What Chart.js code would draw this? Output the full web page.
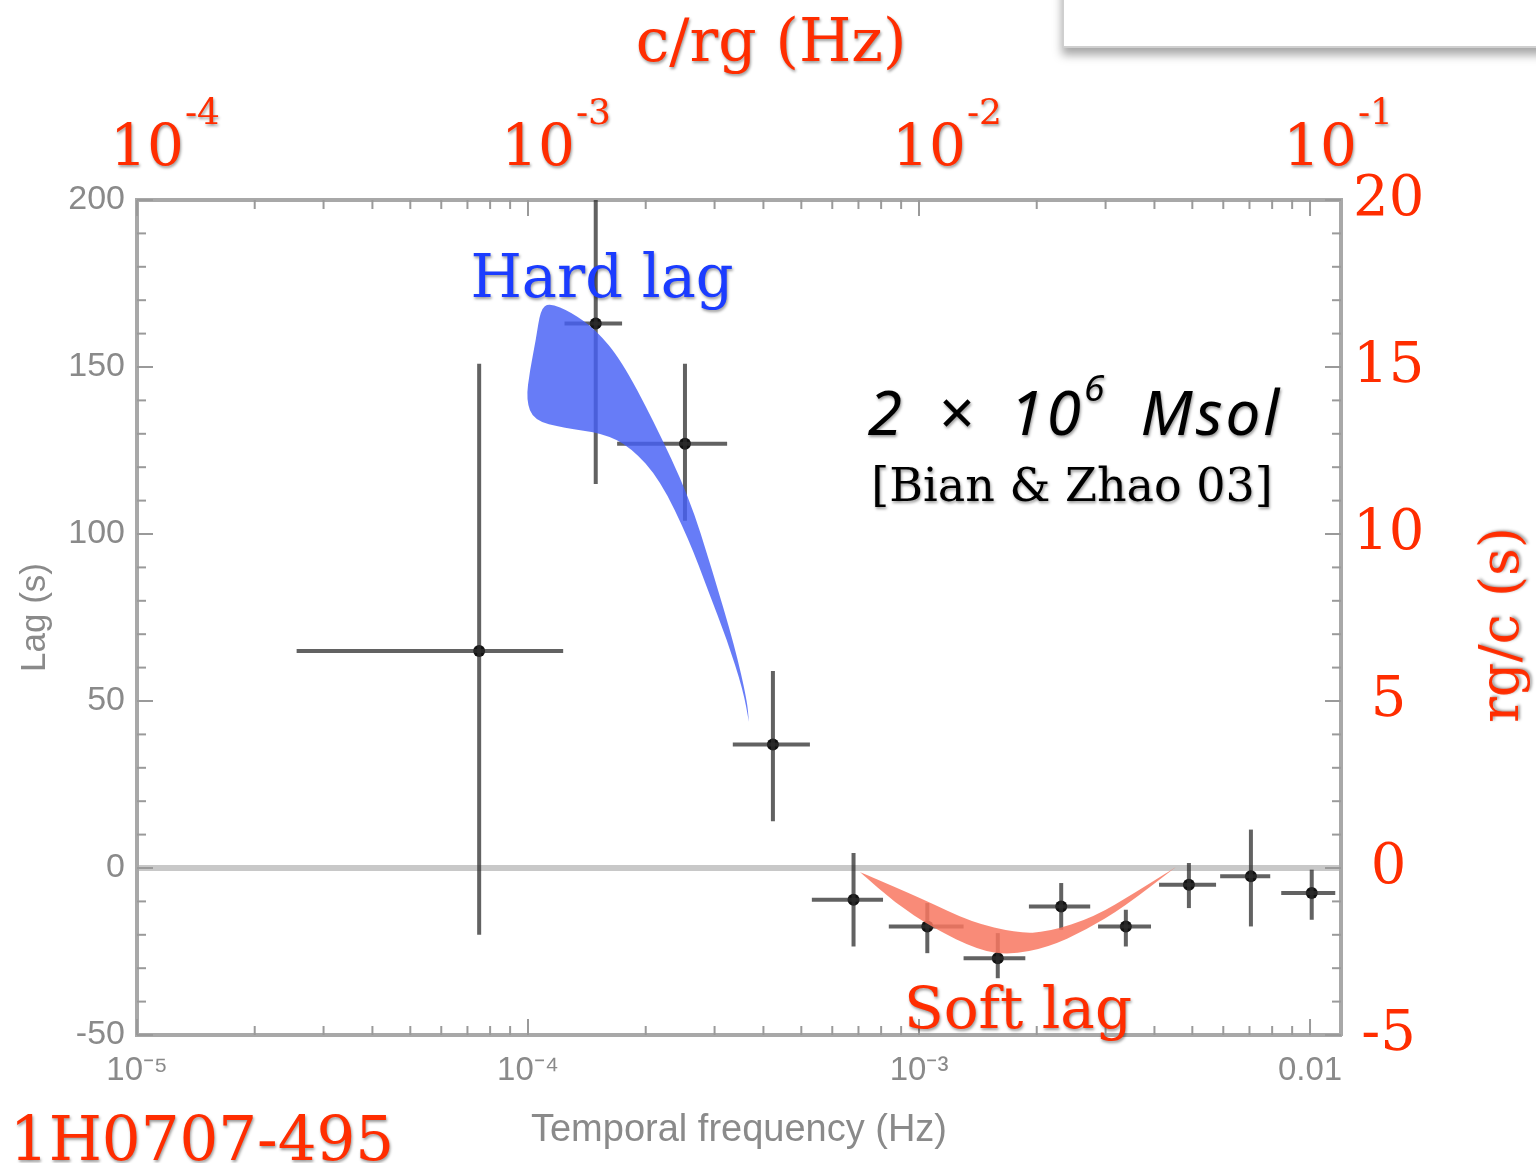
<!DOCTYPE html>
<html>
<head>
<meta charset="utf-8">
<script src="https://cdn.jsdelivr.net/npm/chart.js@4.4.0/dist/chart.umd.min.js"></script>
<style>
  html, body { margin: 0; padding: 0; background: #fff; }
  #wrap { position: relative; width: 1536px; height: 1163px; overflow: hidden; }
  #chart { position: absolute; left: 0; top: 0; }
  .lbl {
    position: absolute; white-space: nowrap; line-height: 1;
    transform: translate(-50%, -50%);
    font-family: "DejaVu Serif", serif;
    text-shadow: 1px 2px 3px rgba(0, 0, 0, 0.4);
  }
  .red { color: #ff2d00; }
  .slide {
    position: absolute; left: 1062px; top: -40px; width: 520px; height: 84px;
    background: #fff; border: 2px solid #cfcfcf;
    box-shadow: 0 7px 9px rgba(0, 0, 0, 0.35);
  }
</style>
</head>
<body>
<div id="wrap">
  <canvas id="chart" width="1536" height="1163"></canvas>
  <div class="slide"></div>
  <div class="lbl red" style="left:771px; top:40px; font-size:60px;">c/rg (Hz)</div>
  <div class="lbl red" style="left:202px; top:1138px; font-size:61px;">1H0707-495</div>
  <div class="lbl" style="left:602px; top:276px; font-size:59px; color:#1b3cff;">Hard lag</div>
  <div class="lbl red" style="left:1018px; top:1008px; font-size:58px;">Soft lag</div>
  <div class="lbl" style="left:1075px; top:405px; font-size:62px; color:#000; font-family:'Noto Sans', sans-serif; font-style:italic; letter-spacing:3px; word-spacing:14px;">2 &times; 10<span style="font-size:0.6em; vertical-align:0.9em;">6</span> Msol</div>
  <div class="lbl" style="left:1072px; top:485px; font-size:46px; color:#000;">[Bian &amp; Zhao 03]</div>
  <div class="lbl red" style="left:1500px; top:625px; font-size:54px; transform:translate(-50%,-50%) rotate(-90deg);">rg/c (s)</div>
</div>
<script>
// lag-frequency spectrum points, 1H0707-495
const freq   = [7.5e-5, 1.49e-4, 2.52e-4, 4.23e-4, 6.8e-4, 1.05e-3, 1.59e-3, 2.31e-3, 3.38e-3, 4.9e-3, 7.06e-3, 1.01e-2];
const freqLo = [2.56e-5, 1.24e-4, 1.69e-4, 3.34e-4, 5.32e-4, 8.37e-4, 1.30e-3, 1.91e-3, 2.87e-3, 4.11e-3, 5.89e-3, 8.44e-3];
const freqHi = [1.23e-4, 1.74e-4, 3.23e-4, 5.26e-4, 8.09e-4, 1.30e-3, 1.87e-3, 2.74e-3, 3.92e-3, 5.75e-3, 7.91e-3, 1.16e-2];
const lag    = [65, 163, 127, 37, -9.5, -17.5, -27, -11.5, -17.5, -5, -2.5, -7.5];
const lagLo  = [-20, 115, 104, 14, -23.5, -25.5, -33, -18.5, -23.5, -12, -17.5, -15.5];
const lagHi  = [151, 205, 151, 59, 4.5, -10.5, -19.5, -4.5, -12.5, 1.5, 11.5, -0.5];

// axis ticks
const bottomTicks = [1e-5, 1e-4, 1e-3, 1e-2];
const bottomTickLabels = ['10⁻⁵', '10⁻⁴', '10⁻³', '0.01'];
const topTicks = [1e-4, 1e-3, 1e-2, 1e-1];
const topExponents = ['-4', '-3', '-2', '-1'];
const rightTicks = [-5, 0, 5, 10, 15, 20];

// hand drawn arrows, as [log10 freq, lag]
const hardLagOutline = [
  [-3.946, 169.2], [-3.890, 166.5], [-3.826, 161.1], [-3.762, 152.1], [-3.680, 134.1],
  [-3.588, 111.1], [-3.529, 89.2], [-3.471, 66.2], [-3.440, 50.3], [-3.435, 43.7], [-3.435, 43.7],
  [-3.450, 53.3], [-3.491, 68.3], [-3.540, 83.2], [-3.588, 98.2], [-3.662, 116.2],
  [-3.737, 126.0], [-3.808, 130.2], [-3.908, 131.7], [-3.985, 134.0], [-4.005, 140.1],
  [-3.995, 149.1], [-3.980, 158.1], [-3.968, 167.2]
];
const softLagOutline = [
  [-3.151, -1.2], [-3.151, -1.2], [-2.985, -9.6], [-2.867, -16.2], [-2.749, -19.5], [-2.670, -19.2],
  [-2.552, -14.7], [-2.445, -7.2], [-2.343, 0.3], [-2.343, 0.3], [-2.476, -11.7], [-2.573, -18.6],
  [-2.670, -23.7], [-2.767, -26.0], [-2.847, -24.6], [-2.964, -18.0], [-3.061, -10.5]
];

const RED = '#ff2d00';
const GRAY = '#8a8a8a';
const SERIF = "'DejaVu Serif', serif";
const xMin = 1e-5, xMax = 0.0120;

const datasets = [];
freq.forEach((f, i) => {
  datasets.push({ data: [{x: freqLo[i], y: lag[i]}, {x: freqHi[i], y: lag[i]}],
    showLine: true, pointRadius: 0, borderColor: 'rgba(45,45,45,0.75)', borderWidth: 4 });
  datasets.push({ data: [{x: f, y: lagLo[i]}, {x: f, y: lagHi[i]}],
    showLine: true, pointRadius: 0, borderColor: 'rgba(45,45,45,0.75)', borderWidth: 4 });
});
datasets.push({ data: freq.map((f, i) => ({x: f, y: lag[i]})),
  pointRadius: 6, pointBackgroundColor: '#111', pointBorderWidth: 0 });

function smoothShape(c, pts) {
  const n = pts.length;
  const mid = (a, b) => [(a[0] + b[0]) / 2, (a[1] + b[1]) / 2];
  c.beginPath();
  let m = mid(pts[n - 1], pts[0]);
  c.moveTo(m[0], m[1]);
  for (let i = 0; i < n; i++) {
    const p = pts[i], q = pts[(i + 1) % n];
    m = mid(p, q);
    c.quadraticCurveTo(p[0], p[1], m[0], m[1]);
  }
  c.closePath();
  c.fill();
}

const arrows = {
  id: 'arrows',
  afterDatasetsDraw(chart) {
    const {ctx: c, scales: {x, y}} = chart;
    const toPx = pts => pts.map(p => [x.getPixelForValue(10 ** p[0]), y.getPixelForValue(p[1])]);
    c.save();
    c.fillStyle = 'rgba(70,95,245,0.82)';
    smoothShape(c, toPx(hardLagOutline));
    c.fillStyle = 'rgba(248,119,96,0.85)';
    smoothShape(c, toPx(softLagOutline));
    c.restore();
  }
};

const frameTicks = {
  id: 'frameTicks',
  afterDraw(chart) {
    const {ctx: c, chartArea: a, scales: {x, y}} = chart;
    c.save();
    c.strokeStyle = '#9a9a9a';
    c.lineWidth = 2;
    const seg = (x1, y1, x2, y2) => { c.beginPath(); c.moveTo(x1, y1); c.lineTo(x2, y2); c.stroke(); };
    for (let v = -50; v <= 200; v += 10) {
      const py = y.getPixelForValue(v);
      const len = v % 50 === 0 ? 16 : 9;
      seg(a.left, py, a.left + len, py);
      seg(a.right, py, a.right - len, py);
    }
    for (let d = -5; d <= -2; d++) {
      for (let m = 1; m <= 9; m++) {
        const v = m * 10 ** d;
        if (v > x.max) continue;
        const px = x.getPixelForValue(v);
        const len = m === 1 ? 16 : 9;
        seg(px, a.bottom, px, a.bottom - len);
        seg(px, a.top, px, a.top + len);
      }
    }
    c.restore();
  }
};

const topLabels = {
  id: 'topLabels',
  afterDraw(chart) {
    const s = chart.scales.x2, c = chart.ctx;
    c.save();
    c.fillStyle = RED;
    c.shadowColor = 'rgba(0,0,0,0.4)';
    c.shadowBlur = 3; c.shadowOffsetX = 1; c.shadowOffsetY = 2;
    topTicks.forEach((v, i) => {
      const px = s.getPixelForValue(v) + 10;
      c.font = '58px ' + SERIF;
      c.textAlign = 'center';
      c.textBaseline = 'alphabetic';
      c.fillText('10', px, 165);
      const w = c.measureText('10').width;
      c.font = '36px ' + SERIF;
      c.textAlign = 'left';
      c.fillText(topExponents[i], px + w / 2 + 1, 124);
    });
    c.restore();
  }
};

new Chart(document.getElementById('chart'), {
  type: 'scatter',
  data: { datasets },
  plugins: [arrows, frameTicks, topLabels],
  options: {
    responsive: false,
    devicePixelRatio: 1,
    animation: false,
    layout: { padding: 0 },
    plugins: { legend: { display: false }, tooltip: { enabled: false } },
    scales: {
      x: {
        type: 'logarithmic', position: 'bottom', min: xMin, max: xMax,
        afterBuildTicks: s => { s.ticks = bottomTicks.map(v => ({value: v})); },
        afterFit: s => { s.height = 128; },
        ticks: {
          callback: v => bottomTickLabels[bottomTicks.indexOf(v)],
          color: GRAY, font: {family: 'Liberation Sans', size: 33}, padding: 16,
          maxRotation: 0, autoSkip: false
        },
        grid: { drawOnChartArea: false, drawTicks: false },
        border: { color: '#a8a8a8', width: 4 },
        title: { display: true, text: 'Temporal frequency (Hz)', color: GRAY,
          font: {family: 'Liberation Sans', size: 38}, padding: {top: 0, bottom: 10} }
      },
      x2: {
        type: 'logarithmic', position: 'top', min: xMin * 10, max: xMax * 10,
        afterBuildTicks: s => { s.ticks = topTicks.map(v => ({value: v})); },
        afterFit: s => { s.height = 200; },
        ticks: { display: false },
        grid: { drawOnChartArea: false, drawTicks: false },
        border: { color: '#a8a8a8', width: 4 }
      },
      y: {
        position: 'left', min: -50, max: 200,
        afterFit: s => { s.width = 137; },
        ticks: { stepSize: 50, color: GRAY, font: {family: 'Liberation Sans', size: 34}, padding: 12 },
        grid: {
          drawTicks: false,
          color: c => c.tick && c.tick.value === 0 ? '#c8c8c8' : 'rgba(0,0,0,0)',
          lineWidth: c => c.tick && c.tick.value === 0 ? 6 : 0
        },
        border: { color: '#a8a8a8', width: 4 },
        title: { display: true, text: 'Lag (s)', color: GRAY,
          font: {family: 'Liberation Sans', size: 35}, padding: {top: 14, bottom: 0} }
      },
      y2: {
        position: 'right', min: -5, max: 20,
        afterBuildTicks: s => { s.ticks = rightTicks.map(v => ({value: v})); },
        afterFit: s => { s.width = 195; },
        ticks: { color: RED, font: {family: SERIF, size: 56}, padding: 12, crossAlign: 'center' },
        grid: { drawOnChartArea: false, drawTicks: false },
        border: { color: '#a8a8a8', width: 4 }
      }
    }
  }
});
</script>
</body>
</html>
